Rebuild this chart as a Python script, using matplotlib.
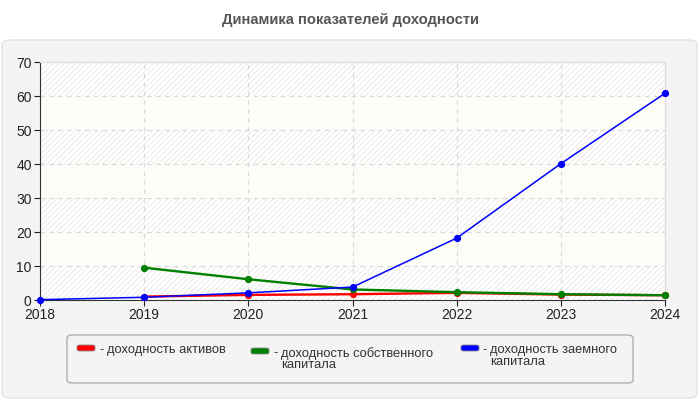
import matplotlib.pyplot as plt
from matplotlib.patches import FancyBboxPatch

plt.rcParams['font.family'] = ['Liberation Sans', 'DejaVu Sans']
plt.rcParams['hatch.linewidth'] = 0.6
plt.rcParams['hatch.color'] = '#e6e6e6'

# данные
years = [2018, 2019, 2020, 2021, 2022, 2023, 2024]
aktivy_years = [2019, 2020, 2021, 2022, 2023, 2024]
aktivy = [1.0, 1.5, 1.7, 2.1, 1.6, 1.4]
sobstv_years = [2019, 2020, 2021, 2022, 2023, 2024]
sobstv = [9.5, 6.1, 3.1, 2.3, 1.7, 1.4]
zaem_years = [2018, 2019, 2020, 2021, 2022, 2023, 2024]
zaem = [0.1, 0.8, 2.1, 3.8, 18.2, 40.1, 60.8]
labels = ['доходность активов', 'доходность собственного\nкапитала', 'доходность заемного\nкапитала']
colors = ['#ff0000', '#008000', '#0000ff']
y_ticks = [0, 10, 20, 30, 40, 50, 60, 70]

fig = plt.figure(figsize=(7, 4), dpi=100)
fig.patch.set_facecolor('white')

# серая панель
panel = FancyBboxPatch((2 / 700, 2 / 400), 695 / 700, 358 / 400,
                       boxstyle='round,pad=0,rounding_size=0.012',
                       transform=fig.transFigure, facecolor='#f4f4f4',
                       edgecolor='#e2e2e2', linewidth=1, zorder=-2)
fig.patches.append(panel)

fig.text(0.5, 380 / 400, 'Динамика показателей доходности', ha='center', va='center',
         fontsize=10.6, fontweight='bold', color='#555555')

ax = fig.add_axes([40 / 700, 100 / 400, 625 / 700, 238 / 400])
ax.set_facecolor('#fdfdf7')
for i in range(len(y_ticks) - 1):
    if (len(y_ticks) - 2 - i) % 2 == 0:
        ax.axhspan(y_ticks[i], y_ticks[i + 1], facecolor='white', hatch='//////',
                   edgecolor='#e6e6e6', linewidth=0, zorder=0)

ax.set_xlim(2018, 2024)
ax.set_ylim(0, 70)
ax.set_xticks(years)
ax.set_yticks(y_ticks)
ax.grid(True, color='#d8d8d8', linestyle=(0, (4, 4)), linewidth=0.8)
ax.set_axisbelow(True)

ax.plot(aktivy_years, aktivy, color=colors[0], lw=1.7, marker='o', ms=4.2, zorder=3, clip_on=False)
ax.plot(sobstv_years, sobstv, color=colors[1], lw=1.7, marker='o', ms=4.2, zorder=4, clip_on=False)
ax.plot(zaem_years, zaem, color=colors[2], lw=1.1, marker='o', ms=4.2, zorder=5, clip_on=False)

for s in ['top', 'right']:
    ax.spines[s].set_color('#dddddd')
for s in ['left', 'bottom']:
    ax.spines[s].set_color('#333333')
ax.tick_params(axis='both', labelsize=10, colors='#222222', length=4, pad=2)

# легенда
leg = FancyBboxPatch((67 / 700, 17 / 400), 566 / 700, 48 / 400,
                     boxstyle='round,pad=0,rounding_size=0.008',
                     transform=fig.transFigure, facecolor='#f4f4f4',
                     edgecolor='#b0b0b0', linewidth=1, zorder=1)
fig.patches.append(leg)
patch_x = [77, 251, 461]
patch_y = [345, 348, 345]
text_x = [107, 281, 490]
for px, py, tx, lab, c in zip(patch_x, patch_y, text_x, labels, colors):
    fig.patches.append(FancyBboxPatch((px / 700, (400 - py - 6) / 400), 18 / 700, 6 / 400,
                                      boxstyle='round,pad=0,rounding_size=0.004',
                                      transform=fig.transFigure, facecolor=c,
                                      edgecolor='#888888', linewidth=0.6, zorder=2))
    fig.text((tx - 8) / 700, (400 - py + 1) / 400, '-', ha='left', va='top',
             fontsize=9.3, color='#333333')
    fig.text(tx / 700, (400 - py + 1) / 400, lab, ha='left', va='top', fontsize=9.3,
             color='#333333', linespacing=0.95)

fig.savefig('out.png', dpi=100)
